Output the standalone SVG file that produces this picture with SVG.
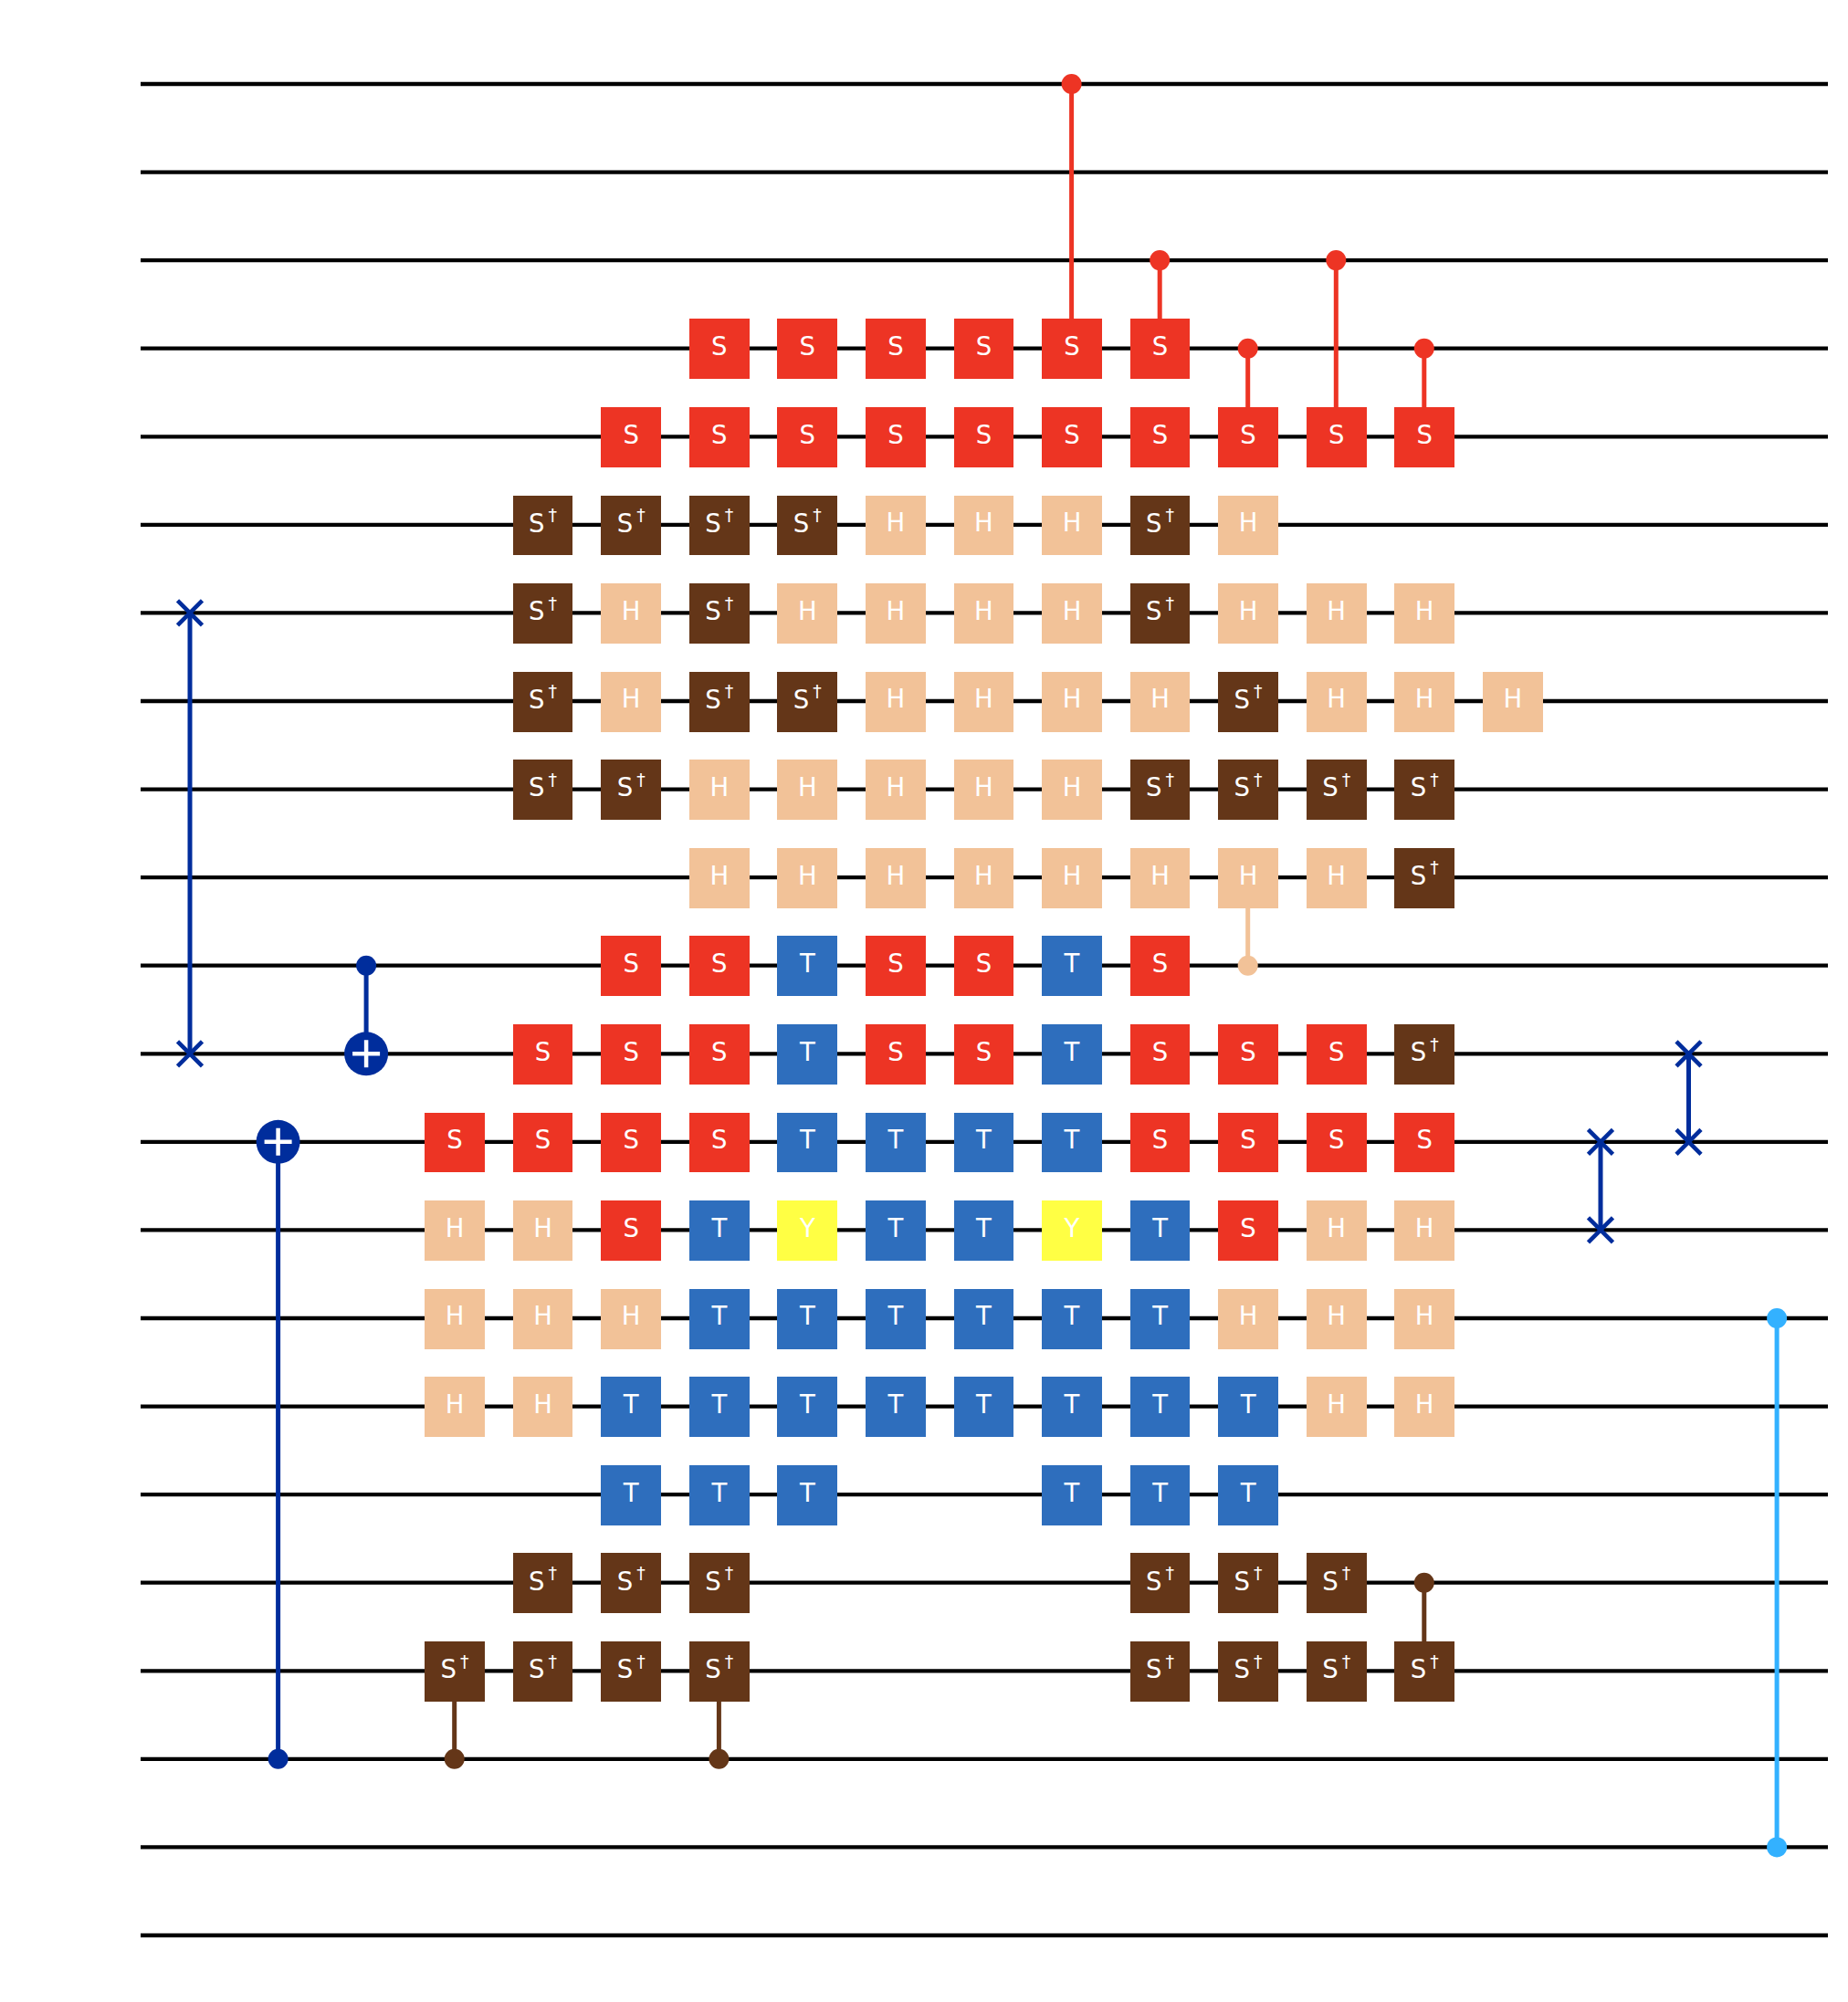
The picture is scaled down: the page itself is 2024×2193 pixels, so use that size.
<svg xmlns="http://www.w3.org/2000/svg" width="2024" height="2193" viewBox="0 0 2024 2193">
<style>
text{font-family:"DejaVu Sans",sans-serif;font-size:27.5px;fill:#fff;text-anchor:middle;transform:translate(.4px,.4px)}
tspan{font-size:19px}
.wire{stroke:#000;stroke-width:4.3;fill:none}
.stem{stroke-width:5;fill:none}
.x{stroke:#002d9c;stroke-width:4.6;fill:none}
.p{stroke:#fff;stroke-width:4.5;fill:none}
.gate{shape-rendering:crispEdges}
.cR{fill:#ed3424;stroke:#ed3424}.cB{fill:#002d9c;stroke:#002d9c}.cN{fill:#643618;stroke:#643618}.cH{fill:#f2c298;stroke:#f2c298}.cL{fill:#33b1ff;stroke:#33b1ff}
</style>
<defs>
<rect id="rS" class="gate" x="-32.5" y="-32.3" width="65.75" height="65.8" fill="#ed3424"/>
<rect id="rD" class="gate" x="-32.5" y="-32.3" width="65.75" height="65.8" fill="#643618"/>
<rect id="rH" class="gate" x="-32.5" y="-32.3" width="65.75" height="65.8" fill="#f2c298"/>
<rect id="rT" class="gate" x="-32.5" y="-32.3" width="65.75" height="65.8" fill="#2e6ebd"/>
<rect id="rY" class="gate" x="-32.5" y="-32.3" width="65.75" height="65.8" fill="#ffff44"/>
<circle id="dR" r="11" fill="#ed3424"/>
<circle id="dB" r="11" fill="#002d9c"/>
<circle id="dN" r="11" fill="#643618"/>
<circle id="dH" r="11" fill="#f2c298"/>
<circle id="dL" r="11" fill="#33b1ff"/>
<path id="sw" class="x" d="M-13.5-13.5L13.5 13.5M-13.5 13.5L13.5-13.5"/>
<g id="tg"><circle r="24" fill="#002d9c"/><path class="p" d="M-15 0H15M0-15V15"/></g>
</defs>
<g id="wires">
<path class="wire" d="M154 92H2002M154 188.6H2002M154 285.1H2002M154 381.7H2002M154 478.3H2002M154 574.9H2002M154 671.4H2002M154 768H2002M154 864.6H2002M154 961.1H2002M154 1057.7H2002M154 1154.3H2002M154 1250.8H2002M154 1347.4H2002M154 1444H2002M154 1540.6H2002M154 1637.1H2002M154 1733.7H2002M154 1830.3H2002M154 1926.8H2002M154 2023.4H2002M154 2120H2002"/>
</g>
<g id="connectors">
<path class="stem cR" d="M1173.6 92V381.7M1270.2 285.1V381.7M1366.7 381.7V478.3M1463.3 285.1V478.3M1559.8 381.7V478.3"/>
<path class="stem cB" d="M208 671.4V1154.3M401.1 1057.7V1154.3M304.6 1250.8V1926.8M1753 1250.8V1347.4M1849.5 1154.3V1250.8"/>
<path class="stem cH" d="M1366.7 961.1V1057.7"/>
<path class="stem cN" d="M497.7 1830.3V1926.8M787.4 1830.3V1926.8M1559.8 1733.7V1830.3"/>
<path class="stem cL" d="M1946.1 1444V2023.4"/>
</g>
<g id="n0-10" transform="translate(1173.6 92)"><use href="#dR"/></g>
<g id="n2-11" transform="translate(1270.2 285.1)"><use href="#dR"/></g>
<g id="n2-13" transform="translate(1463.3 285.1)"><use href="#dR"/></g>
<g id="n3-6" transform="translate(787.4 381.7)"><use href="#rS"/><text y="7">S</text></g>
<g id="n3-7" transform="translate(883.9 381.7)"><use href="#rS"/><text y="7">S</text></g>
<g id="n3-8" transform="translate(980.5 381.7)"><use href="#rS"/><text y="7">S</text></g>
<g id="n3-9" transform="translate(1077 381.7)"><use href="#rS"/><text y="7">S</text></g>
<g id="n3-10" transform="translate(1173.6 381.7)"><use href="#rS"/><text y="7">S</text></g>
<g id="n3-11" transform="translate(1270.2 381.7)"><use href="#rS"/><text y="7">S</text></g>
<g id="n3-12" transform="translate(1366.7 381.7)"><use href="#dR"/></g>
<g id="n3-14" transform="translate(1559.8 381.7)"><use href="#dR"/></g>
<g id="n4-5" transform="translate(690.8 478.3)"><use href="#rS"/><text y="7">S</text></g>
<g id="n4-6" transform="translate(787.4 478.3)"><use href="#rS"/><text y="7">S</text></g>
<g id="n4-7" transform="translate(883.9 478.3)"><use href="#rS"/><text y="7">S</text></g>
<g id="n4-8" transform="translate(980.5 478.3)"><use href="#rS"/><text y="7">S</text></g>
<g id="n4-9" transform="translate(1077 478.3)"><use href="#rS"/><text y="7">S</text></g>
<g id="n4-10" transform="translate(1173.6 478.3)"><use href="#rS"/><text y="7">S</text></g>
<g id="n4-11" transform="translate(1270.2 478.3)"><use href="#rS"/><text y="7">S</text></g>
<g id="n4-12" transform="translate(1366.7 478.3)"><use href="#rS"/><text y="7">S</text></g>
<g id="n4-13" transform="translate(1463.3 478.3)"><use href="#rS"/><text y="7">S</text></g>
<g id="n4-14" transform="translate(1559.8 478.3)"><use href="#rS"/><text y="7">S</text></g>
<g id="n5-4" transform="translate(594.2 574.9)"><use href="#rD"/><text y="7.4">S<tspan dx="4" dy="-11.5">†</tspan></text></g>
<g id="n5-5" transform="translate(690.8 574.9)"><use href="#rD"/><text y="7.4">S<tspan dx="4" dy="-11.5">†</tspan></text></g>
<g id="n5-6" transform="translate(787.4 574.9)"><use href="#rD"/><text y="7.4">S<tspan dx="4" dy="-11.5">†</tspan></text></g>
<g id="n5-7" transform="translate(883.9 574.9)"><use href="#rD"/><text y="7.4">S<tspan dx="4" dy="-11.5">†</tspan></text></g>
<g id="n5-8" transform="translate(980.5 574.9)"><use href="#rH"/><text y="7">H</text></g>
<g id="n5-9" transform="translate(1077 574.9)"><use href="#rH"/><text y="7">H</text></g>
<g id="n5-10" transform="translate(1173.6 574.9)"><use href="#rH"/><text y="7">H</text></g>
<g id="n5-11" transform="translate(1270.2 574.9)"><use href="#rD"/><text y="7.4">S<tspan dx="4" dy="-11.5">†</tspan></text></g>
<g id="n5-12" transform="translate(1366.7 574.9)"><use href="#rH"/><text y="7">H</text></g>
<g id="n6-0" transform="translate(208 671.4)"><use href="#sw"/></g>
<g id="n6-4" transform="translate(594.2 671.4)"><use href="#rD"/><text y="7.4">S<tspan dx="4" dy="-11.5">†</tspan></text></g>
<g id="n6-5" transform="translate(690.8 671.4)"><use href="#rH"/><text y="7">H</text></g>
<g id="n6-6" transform="translate(787.4 671.4)"><use href="#rD"/><text y="7.4">S<tspan dx="4" dy="-11.5">†</tspan></text></g>
<g id="n6-7" transform="translate(883.9 671.4)"><use href="#rH"/><text y="7">H</text></g>
<g id="n6-8" transform="translate(980.5 671.4)"><use href="#rH"/><text y="7">H</text></g>
<g id="n6-9" transform="translate(1077 671.4)"><use href="#rH"/><text y="7">H</text></g>
<g id="n6-10" transform="translate(1173.6 671.4)"><use href="#rH"/><text y="7">H</text></g>
<g id="n6-11" transform="translate(1270.2 671.4)"><use href="#rD"/><text y="7.4">S<tspan dx="4" dy="-11.5">†</tspan></text></g>
<g id="n6-12" transform="translate(1366.7 671.4)"><use href="#rH"/><text y="7">H</text></g>
<g id="n6-13" transform="translate(1463.3 671.4)"><use href="#rH"/><text y="7">H</text></g>
<g id="n6-14" transform="translate(1559.8 671.4)"><use href="#rH"/><text y="7">H</text></g>
<g id="n7-4" transform="translate(594.2 768)"><use href="#rD"/><text y="7.4">S<tspan dx="4" dy="-11.5">†</tspan></text></g>
<g id="n7-5" transform="translate(690.8 768)"><use href="#rH"/><text y="7">H</text></g>
<g id="n7-6" transform="translate(787.4 768)"><use href="#rD"/><text y="7.4">S<tspan dx="4" dy="-11.5">†</tspan></text></g>
<g id="n7-7" transform="translate(883.9 768)"><use href="#rD"/><text y="7.4">S<tspan dx="4" dy="-11.5">†</tspan></text></g>
<g id="n7-8" transform="translate(980.5 768)"><use href="#rH"/><text y="7">H</text></g>
<g id="n7-9" transform="translate(1077 768)"><use href="#rH"/><text y="7">H</text></g>
<g id="n7-10" transform="translate(1173.6 768)"><use href="#rH"/><text y="7">H</text></g>
<g id="n7-11" transform="translate(1270.2 768)"><use href="#rH"/><text y="7">H</text></g>
<g id="n7-12" transform="translate(1366.7 768)"><use href="#rD"/><text y="7.4">S<tspan dx="4" dy="-11.5">†</tspan></text></g>
<g id="n7-13" transform="translate(1463.3 768)"><use href="#rH"/><text y="7">H</text></g>
<g id="n7-14" transform="translate(1559.8 768)"><use href="#rH"/><text y="7">H</text></g>
<g id="n7-15" transform="translate(1656.4 768)"><use href="#rH"/><text y="7">H</text></g>
<g id="n8-4" transform="translate(594.2 864.6)"><use href="#rD"/><text y="7.4">S<tspan dx="4" dy="-11.5">†</tspan></text></g>
<g id="n8-5" transform="translate(690.8 864.6)"><use href="#rD"/><text y="7.4">S<tspan dx="4" dy="-11.5">†</tspan></text></g>
<g id="n8-6" transform="translate(787.4 864.6)"><use href="#rH"/><text y="7">H</text></g>
<g id="n8-7" transform="translate(883.9 864.6)"><use href="#rH"/><text y="7">H</text></g>
<g id="n8-8" transform="translate(980.5 864.6)"><use href="#rH"/><text y="7">H</text></g>
<g id="n8-9" transform="translate(1077 864.6)"><use href="#rH"/><text y="7">H</text></g>
<g id="n8-10" transform="translate(1173.6 864.6)"><use href="#rH"/><text y="7">H</text></g>
<g id="n8-11" transform="translate(1270.2 864.6)"><use href="#rD"/><text y="7.4">S<tspan dx="4" dy="-11.5">†</tspan></text></g>
<g id="n8-12" transform="translate(1366.7 864.6)"><use href="#rD"/><text y="7.4">S<tspan dx="4" dy="-11.5">†</tspan></text></g>
<g id="n8-13" transform="translate(1463.3 864.6)"><use href="#rD"/><text y="7.4">S<tspan dx="4" dy="-11.5">†</tspan></text></g>
<g id="n8-14" transform="translate(1559.8 864.6)"><use href="#rD"/><text y="7.4">S<tspan dx="4" dy="-11.5">†</tspan></text></g>
<g id="n9-6" transform="translate(787.4 961.1)"><use href="#rH"/><text y="7">H</text></g>
<g id="n9-7" transform="translate(883.9 961.1)"><use href="#rH"/><text y="7">H</text></g>
<g id="n9-8" transform="translate(980.5 961.1)"><use href="#rH"/><text y="7">H</text></g>
<g id="n9-9" transform="translate(1077 961.1)"><use href="#rH"/><text y="7">H</text></g>
<g id="n9-10" transform="translate(1173.6 961.1)"><use href="#rH"/><text y="7">H</text></g>
<g id="n9-11" transform="translate(1270.2 961.1)"><use href="#rH"/><text y="7">H</text></g>
<g id="n9-12" transform="translate(1366.7 961.1)"><use href="#rH"/><text y="7">H</text></g>
<g id="n9-13" transform="translate(1463.3 961.1)"><use href="#rH"/><text y="7">H</text></g>
<g id="n9-14" transform="translate(1559.8 961.1)"><use href="#rD"/><text y="7.4">S<tspan dx="4" dy="-11.5">†</tspan></text></g>
<g id="n10-2" transform="translate(401.1 1057.7)"><use href="#dB"/></g>
<g id="n10-5" transform="translate(690.8 1057.7)"><use href="#rS"/><text y="7">S</text></g>
<g id="n10-6" transform="translate(787.4 1057.7)"><use href="#rS"/><text y="7">S</text></g>
<g id="n10-7" transform="translate(883.9 1057.7)"><use href="#rT"/><text y="7">T</text></g>
<g id="n10-8" transform="translate(980.5 1057.7)"><use href="#rS"/><text y="7">S</text></g>
<g id="n10-9" transform="translate(1077 1057.7)"><use href="#rS"/><text y="7">S</text></g>
<g id="n10-10" transform="translate(1173.6 1057.7)"><use href="#rT"/><text y="7">T</text></g>
<g id="n10-11" transform="translate(1270.2 1057.7)"><use href="#rS"/><text y="7">S</text></g>
<g id="n10-12" transform="translate(1366.7 1057.7)"><use href="#dH"/></g>
<g id="n11-0" transform="translate(208 1154.3)"><use href="#sw"/></g>
<g id="n11-2" transform="translate(401.1 1154.3)"><use href="#tg"/></g>
<g id="n11-4" transform="translate(594.2 1154.3)"><use href="#rS"/><text y="7">S</text></g>
<g id="n11-5" transform="translate(690.8 1154.3)"><use href="#rS"/><text y="7">S</text></g>
<g id="n11-6" transform="translate(787.4 1154.3)"><use href="#rS"/><text y="7">S</text></g>
<g id="n11-7" transform="translate(883.9 1154.3)"><use href="#rT"/><text y="7">T</text></g>
<g id="n11-8" transform="translate(980.5 1154.3)"><use href="#rS"/><text y="7">S</text></g>
<g id="n11-9" transform="translate(1077 1154.3)"><use href="#rS"/><text y="7">S</text></g>
<g id="n11-10" transform="translate(1173.6 1154.3)"><use href="#rT"/><text y="7">T</text></g>
<g id="n11-11" transform="translate(1270.2 1154.3)"><use href="#rS"/><text y="7">S</text></g>
<g id="n11-12" transform="translate(1366.7 1154.3)"><use href="#rS"/><text y="7">S</text></g>
<g id="n11-13" transform="translate(1463.3 1154.3)"><use href="#rS"/><text y="7">S</text></g>
<g id="n11-14" transform="translate(1559.8 1154.3)"><use href="#rD"/><text y="7.4">S<tspan dx="4" dy="-11.5">†</tspan></text></g>
<g id="n11-17" transform="translate(1849.5 1154.3)"><use href="#sw"/></g>
<g id="n12-1" transform="translate(304.6 1250.8)"><use href="#tg"/></g>
<g id="n12-3" transform="translate(497.7 1250.8)"><use href="#rS"/><text y="7">S</text></g>
<g id="n12-4" transform="translate(594.2 1250.8)"><use href="#rS"/><text y="7">S</text></g>
<g id="n12-5" transform="translate(690.8 1250.8)"><use href="#rS"/><text y="7">S</text></g>
<g id="n12-6" transform="translate(787.4 1250.8)"><use href="#rS"/><text y="7">S</text></g>
<g id="n12-7" transform="translate(883.9 1250.8)"><use href="#rT"/><text y="7">T</text></g>
<g id="n12-8" transform="translate(980.5 1250.8)"><use href="#rT"/><text y="7">T</text></g>
<g id="n12-9" transform="translate(1077 1250.8)"><use href="#rT"/><text y="7">T</text></g>
<g id="n12-10" transform="translate(1173.6 1250.8)"><use href="#rT"/><text y="7">T</text></g>
<g id="n12-11" transform="translate(1270.2 1250.8)"><use href="#rS"/><text y="7">S</text></g>
<g id="n12-12" transform="translate(1366.7 1250.8)"><use href="#rS"/><text y="7">S</text></g>
<g id="n12-13" transform="translate(1463.3 1250.8)"><use href="#rS"/><text y="7">S</text></g>
<g id="n12-14" transform="translate(1559.8 1250.8)"><use href="#rS"/><text y="7">S</text></g>
<g id="n12-16" transform="translate(1753 1250.8)"><use href="#sw"/></g>
<g id="n12-17" transform="translate(1849.5 1250.8)"><use href="#sw"/></g>
<g id="n13-3" transform="translate(497.7 1347.4)"><use href="#rH"/><text y="7">H</text></g>
<g id="n13-4" transform="translate(594.2 1347.4)"><use href="#rH"/><text y="7">H</text></g>
<g id="n13-5" transform="translate(690.8 1347.4)"><use href="#rS"/><text y="7">S</text></g>
<g id="n13-6" transform="translate(787.4 1347.4)"><use href="#rT"/><text y="7">T</text></g>
<g id="n13-7" transform="translate(883.9 1347.4)"><use href="#rY"/><text y="7">Y</text></g>
<g id="n13-8" transform="translate(980.5 1347.4)"><use href="#rT"/><text y="7">T</text></g>
<g id="n13-9" transform="translate(1077 1347.4)"><use href="#rT"/><text y="7">T</text></g>
<g id="n13-10" transform="translate(1173.6 1347.4)"><use href="#rY"/><text y="7">Y</text></g>
<g id="n13-11" transform="translate(1270.2 1347.4)"><use href="#rT"/><text y="7">T</text></g>
<g id="n13-12" transform="translate(1366.7 1347.4)"><use href="#rS"/><text y="7">S</text></g>
<g id="n13-13" transform="translate(1463.3 1347.4)"><use href="#rH"/><text y="7">H</text></g>
<g id="n13-14" transform="translate(1559.8 1347.4)"><use href="#rH"/><text y="7">H</text></g>
<g id="n13-16" transform="translate(1753 1347.4)"><use href="#sw"/></g>
<g id="n14-3" transform="translate(497.7 1444)"><use href="#rH"/><text y="7">H</text></g>
<g id="n14-4" transform="translate(594.2 1444)"><use href="#rH"/><text y="7">H</text></g>
<g id="n14-5" transform="translate(690.8 1444)"><use href="#rH"/><text y="7">H</text></g>
<g id="n14-6" transform="translate(787.4 1444)"><use href="#rT"/><text y="7">T</text></g>
<g id="n14-7" transform="translate(883.9 1444)"><use href="#rT"/><text y="7">T</text></g>
<g id="n14-8" transform="translate(980.5 1444)"><use href="#rT"/><text y="7">T</text></g>
<g id="n14-9" transform="translate(1077 1444)"><use href="#rT"/><text y="7">T</text></g>
<g id="n14-10" transform="translate(1173.6 1444)"><use href="#rT"/><text y="7">T</text></g>
<g id="n14-11" transform="translate(1270.2 1444)"><use href="#rT"/><text y="7">T</text></g>
<g id="n14-12" transform="translate(1366.7 1444)"><use href="#rH"/><text y="7">H</text></g>
<g id="n14-13" transform="translate(1463.3 1444)"><use href="#rH"/><text y="7">H</text></g>
<g id="n14-14" transform="translate(1559.8 1444)"><use href="#rH"/><text y="7">H</text></g>
<g id="n14-18" transform="translate(1946.1 1444)"><use href="#dL"/></g>
<g id="n15-3" transform="translate(497.7 1540.6)"><use href="#rH"/><text y="7">H</text></g>
<g id="n15-4" transform="translate(594.2 1540.6)"><use href="#rH"/><text y="7">H</text></g>
<g id="n15-5" transform="translate(690.8 1540.6)"><use href="#rT"/><text y="7">T</text></g>
<g id="n15-6" transform="translate(787.4 1540.6)"><use href="#rT"/><text y="7">T</text></g>
<g id="n15-7" transform="translate(883.9 1540.6)"><use href="#rT"/><text y="7">T</text></g>
<g id="n15-8" transform="translate(980.5 1540.6)"><use href="#rT"/><text y="7">T</text></g>
<g id="n15-9" transform="translate(1077 1540.6)"><use href="#rT"/><text y="7">T</text></g>
<g id="n15-10" transform="translate(1173.6 1540.6)"><use href="#rT"/><text y="7">T</text></g>
<g id="n15-11" transform="translate(1270.2 1540.6)"><use href="#rT"/><text y="7">T</text></g>
<g id="n15-12" transform="translate(1366.7 1540.6)"><use href="#rT"/><text y="7">T</text></g>
<g id="n15-13" transform="translate(1463.3 1540.6)"><use href="#rH"/><text y="7">H</text></g>
<g id="n15-14" transform="translate(1559.8 1540.6)"><use href="#rH"/><text y="7">H</text></g>
<g id="n16-5" transform="translate(690.8 1637.1)"><use href="#rT"/><text y="7">T</text></g>
<g id="n16-6" transform="translate(787.4 1637.1)"><use href="#rT"/><text y="7">T</text></g>
<g id="n16-7" transform="translate(883.9 1637.1)"><use href="#rT"/><text y="7">T</text></g>
<g id="n16-10" transform="translate(1173.6 1637.1)"><use href="#rT"/><text y="7">T</text></g>
<g id="n16-11" transform="translate(1270.2 1637.1)"><use href="#rT"/><text y="7">T</text></g>
<g id="n16-12" transform="translate(1366.7 1637.1)"><use href="#rT"/><text y="7">T</text></g>
<g id="n17-4" transform="translate(594.2 1733.7)"><use href="#rD"/><text y="7.4">S<tspan dx="4" dy="-11.5">†</tspan></text></g>
<g id="n17-5" transform="translate(690.8 1733.7)"><use href="#rD"/><text y="7.4">S<tspan dx="4" dy="-11.5">†</tspan></text></g>
<g id="n17-6" transform="translate(787.4 1733.7)"><use href="#rD"/><text y="7.4">S<tspan dx="4" dy="-11.5">†</tspan></text></g>
<g id="n17-11" transform="translate(1270.2 1733.7)"><use href="#rD"/><text y="7.4">S<tspan dx="4" dy="-11.5">†</tspan></text></g>
<g id="n17-12" transform="translate(1366.7 1733.7)"><use href="#rD"/><text y="7.4">S<tspan dx="4" dy="-11.5">†</tspan></text></g>
<g id="n17-13" transform="translate(1463.3 1733.7)"><use href="#rD"/><text y="7.4">S<tspan dx="4" dy="-11.5">†</tspan></text></g>
<g id="n17-14" transform="translate(1559.8 1733.7)"><use href="#dN"/></g>
<g id="n18-3" transform="translate(497.7 1830.3)"><use href="#rD"/><text y="7.4">S<tspan dx="4" dy="-11.5">†</tspan></text></g>
<g id="n18-4" transform="translate(594.2 1830.3)"><use href="#rD"/><text y="7.4">S<tspan dx="4" dy="-11.5">†</tspan></text></g>
<g id="n18-5" transform="translate(690.8 1830.3)"><use href="#rD"/><text y="7.4">S<tspan dx="4" dy="-11.5">†</tspan></text></g>
<g id="n18-6" transform="translate(787.4 1830.3)"><use href="#rD"/><text y="7.4">S<tspan dx="4" dy="-11.5">†</tspan></text></g>
<g id="n18-11" transform="translate(1270.2 1830.3)"><use href="#rD"/><text y="7.4">S<tspan dx="4" dy="-11.5">†</tspan></text></g>
<g id="n18-12" transform="translate(1366.7 1830.3)"><use href="#rD"/><text y="7.4">S<tspan dx="4" dy="-11.5">†</tspan></text></g>
<g id="n18-13" transform="translate(1463.3 1830.3)"><use href="#rD"/><text y="7.4">S<tspan dx="4" dy="-11.5">†</tspan></text></g>
<g id="n18-14" transform="translate(1559.8 1830.3)"><use href="#rD"/><text y="7.4">S<tspan dx="4" dy="-11.5">†</tspan></text></g>
<g id="n19-1" transform="translate(304.6 1926.8)"><use href="#dB"/></g>
<g id="n19-3" transform="translate(497.7 1926.8)"><use href="#dN"/></g>
<g id="n19-6" transform="translate(787.4 1926.8)"><use href="#dN"/></g>
<g id="n20-18" transform="translate(1946.1 2023.4)"><use href="#dL"/></g>
</svg>
